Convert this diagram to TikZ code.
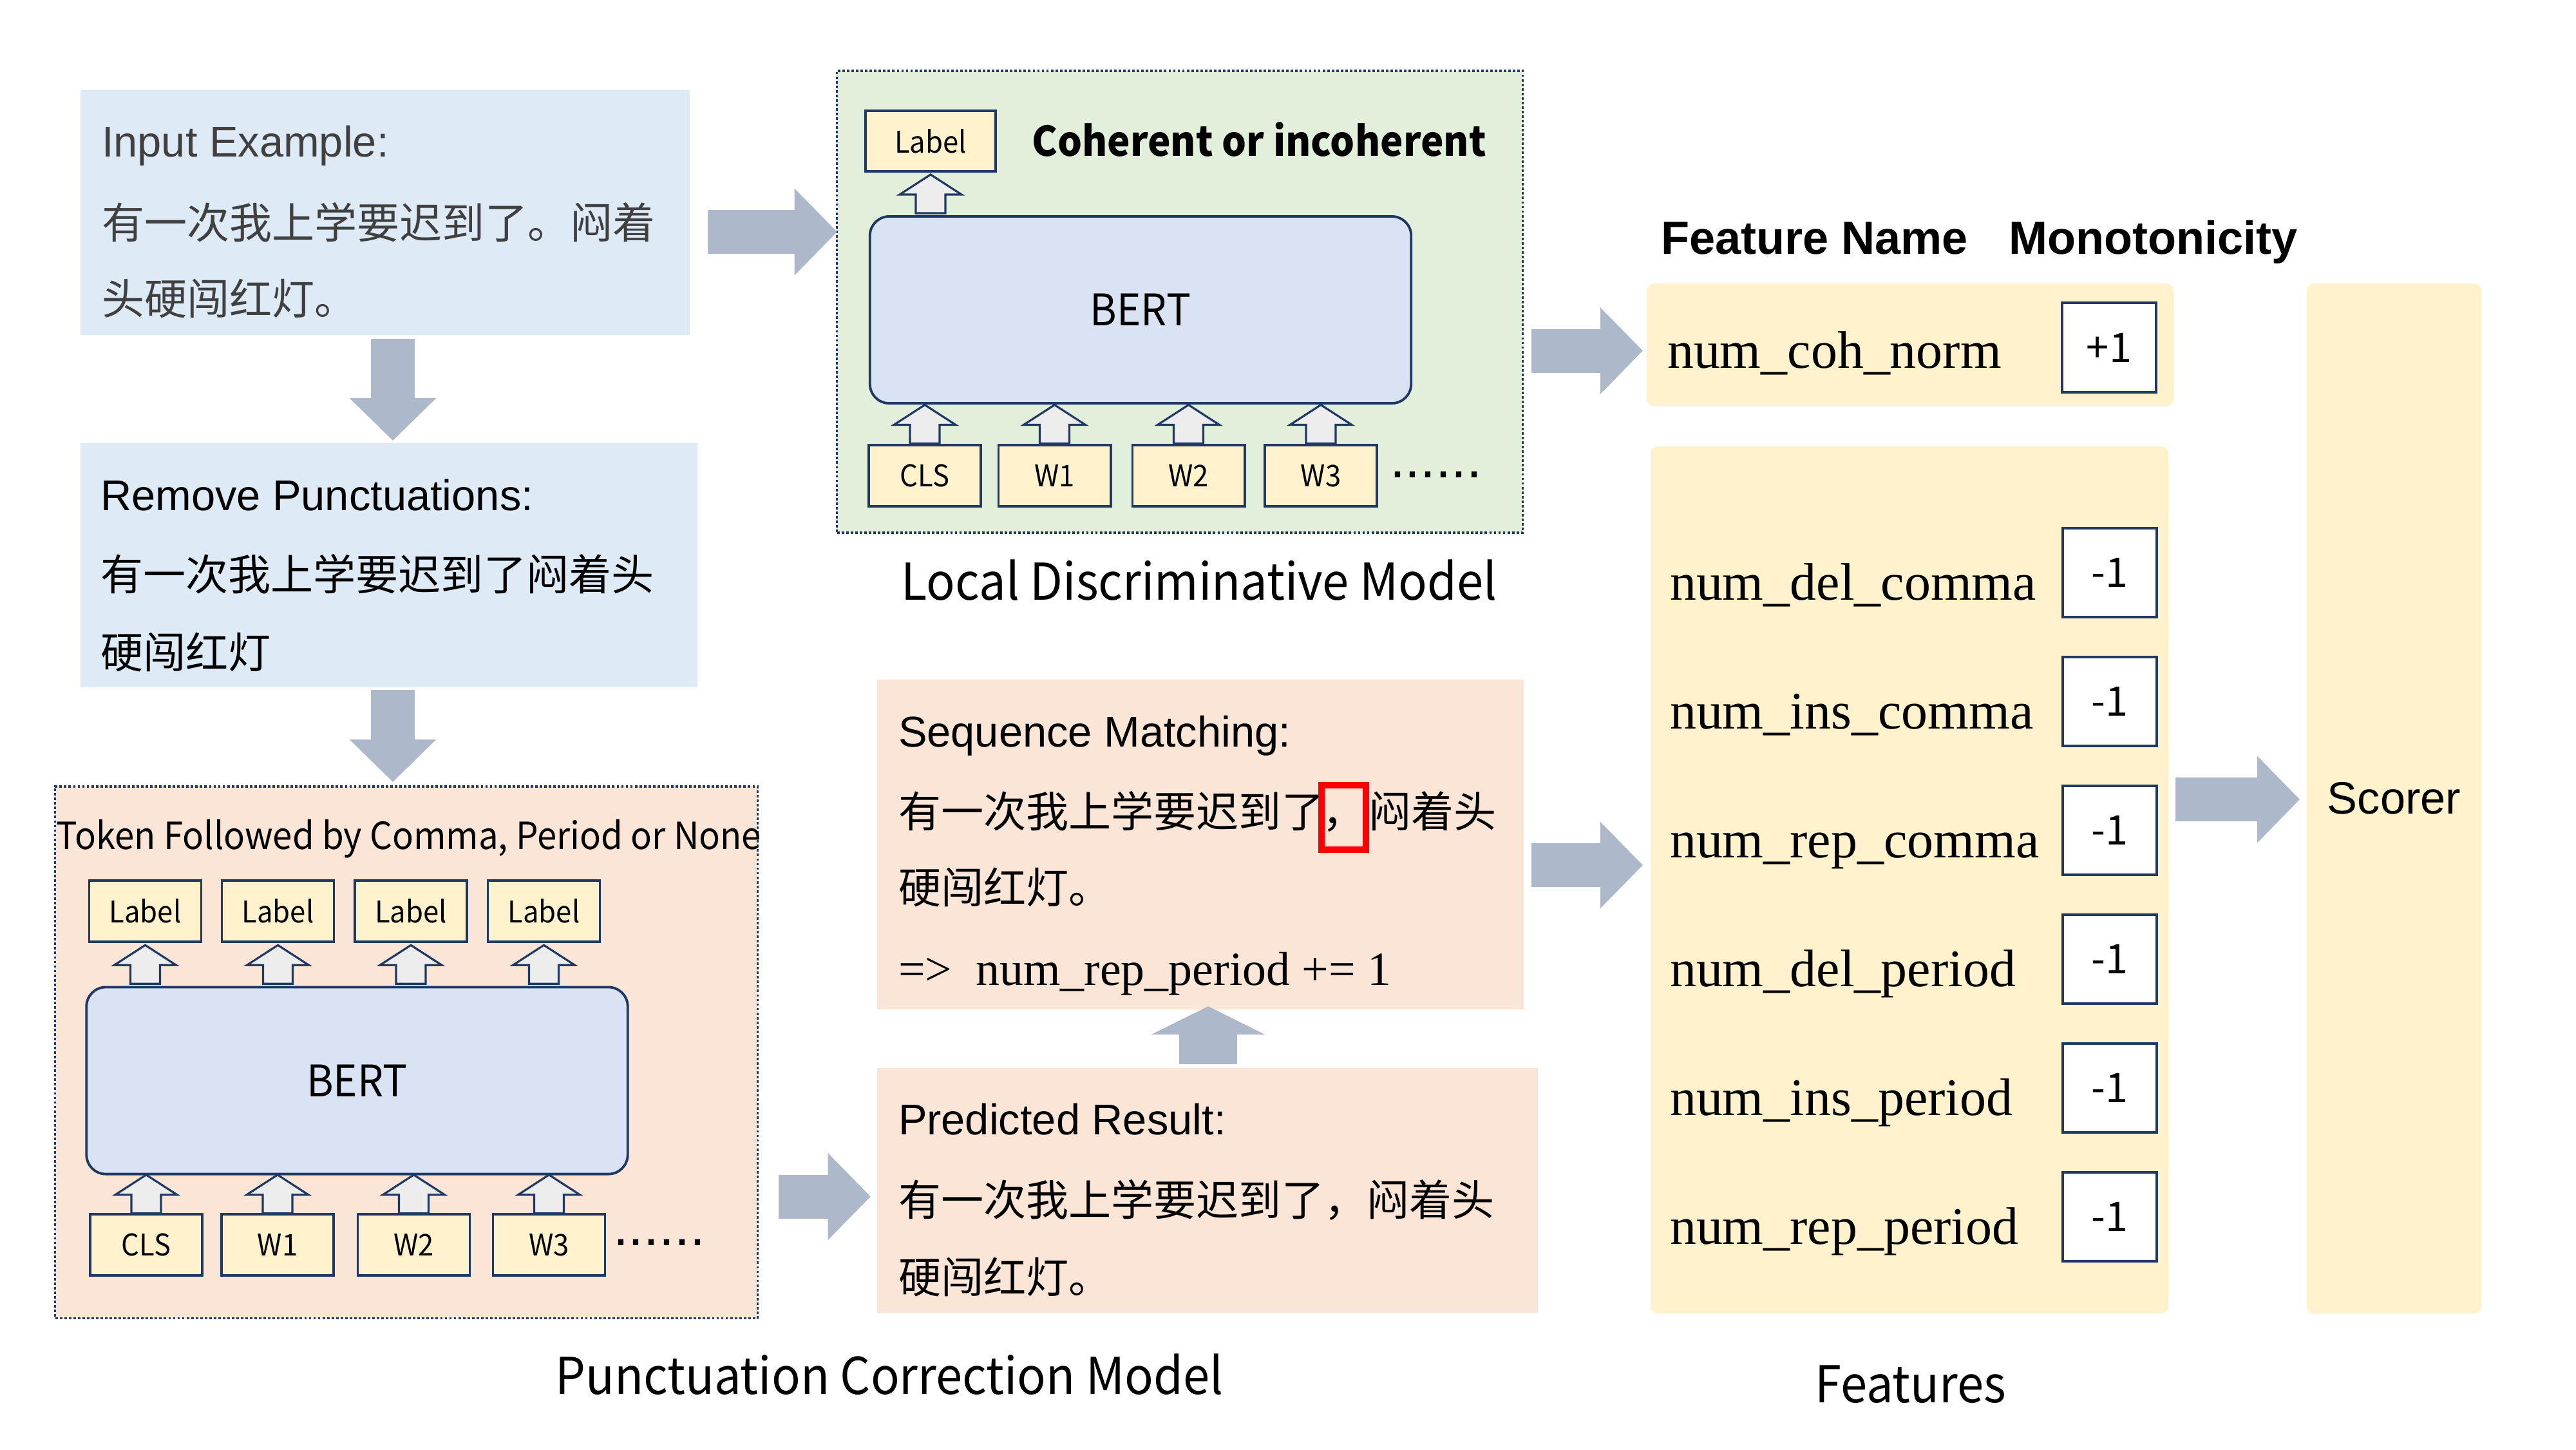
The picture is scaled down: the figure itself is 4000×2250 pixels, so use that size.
\documentclass[tikz,border=0pt]{standalone}
\usepackage{fontspec}
\newfontfamily\zh{Noto Sans CJK SC}
\newfontfamily\zhn[FakeStretch=0.94]{Noto Sans CJK SC}
\newfontfamily\lsans{Liberation Sans}
\newfontfamily\tnr{Liberation Serif}
\usetikzlibrary{arrows.meta,calc,positioning}

\definecolor{navy}{HTML}{1F3864}
\definecolor{paleblue}{HTML}{DEEBF7}
\definecolor{palegreen}{HTML}{E2EFDA}
\definecolor{peach}{HTML}{FBE5D6}
\definecolor{cream}{HTML}{FFF2CC}
\definecolor{bertblue}{HTML}{DAE3F3}
\definecolor{slate}{HTML}{ADB9CA}
\definecolor{ghost}{HTML}{EDEDED}

\tikzset{
  panel/.style={rectangle, inner sep=0pt, outer sep=0pt},
  dotframe/.style={panel, draw=navy, line width=1pt, dash pattern=on 1.1pt off 0.9pt},
  txt/.style={inner sep=0pt, outer sep=0pt, anchor=base west},
  latin/.style={txt, font=\lsans\fontsize{19}{23}\selectfont},
  hanzi/.style={txt, font=\zh\fontsize{18.8}{23}\selectfont},
  caption/.style={inner sep=0pt, anchor=base, font=\zhn\fontsize{22.4}{27}\selectfont},
  tok/.style={panel, draw=navy, line width=1.1pt, fill=cream, minimum width=1.74cm, minimum height=0.95cm, font=\zhn\fontsize{13.2}{16}\selectfont},
  bert/.style={panel, draw=navy, line width=1.1pt, fill=bertblue, rounded corners=0.3cm, minimum width=8.4cm, minimum height=2.9cm, font=\zhn\fontsize{19.2}{23}\selectfont},
  hollowup/.pic={\draw[draw=navy, fill=ghost, line width=0.9pt] (-23,30) -- (-23,1) -- (-48,1) -- (0,-30) -- (48,1) -- (23,1) -- (23,30) -- cycle;},
  fat/.style={draw=slate, line width=0.68cm, -{Triangle[length=0.66cm,width=1.35cm,line width=0pt]}},
  feat/.style={txt, font=\tnr\fontsize{23.3}{28}\selectfont},
  mono/.style={panel, draw=navy, line width=1pt, fill=white, minimum width=1.46cm, minimum height=1.38cm, font=\zh\fontsize{18}{22}\selectfont},
  dots/.style={txt, font=\lsans\fontsize{24.5}{28}\selectfont},
}

\begin{document}
\begin{tikzpicture}[x=0.01cm, y=-0.01cm]
\useasboundingbox (0,0) rectangle (4000,2250);

\node[panel, fill=paleblue, minimum width=9.46cm, minimum height=3.8cm] (input) at (598,330) {};
\node[latin, text=black!75] (inhead) at (158,243) {Input Example:};
\node[hanzi, text=black!75] (inl1) at (158,370) {有一次我上学要迟到了。闷着};
\node[hanzi, text=black!75] (inl2) at (158,488) {头硬闯红灯。};

\node[panel, fill=paleblue, minimum width=9.58cm, minimum height=3.79cm] (remove) at (604,877.5) {};
\node[latin] (rmhead) at (156,792) {Remove Punctuations:};
\node[hanzi] (rml1) at (156,916) {有一次我上学要迟到了闷着头};
\node[hanzi] (rml2) at (156,1037) {硬闯红灯};

\node[dotframe, fill=peach, minimum width=10.9cm, minimum height=8.25cm] (pcm) at (631,1633.5) {};
\node[inner sep=0pt, anchor=base, font=\zhn\fontsize{16.5}{20}\selectfont] (pcmtask) at (635,1318) {Token Followed by Comma, Period or None};
\node[bert] (bertb) at (554.5,1677.5) {BERT};
\foreach \i/\x in {1/225.5, 2/431.5, 3/638, 4/844.5}
  \node[tok] (plab\i) at (\x,1414.5) {Label};
\foreach \nm/\lbl/\x in {pcls/CLS/227, pw1/W1/431, pw2/W2/642.5, pw3/W3/852.5}
  \node[tok] (\nm) at (\x,1932.5) {\lbl};
\node[dots] (pdots) at (952,1933) {......};
\foreach \i in {1,...,4}
  \pic (pup\i) at ($(plab\i.south)!.5!(plab\i.south |- bertb.north)$) {hollowup};
\foreach \nm in {pcls,pw1,pw2,pw3}
  \pic (up\nm) at ($(\nm.north)!.5!(\nm.north |- bertb.south)$) {hollowup};
\node[caption] (pcmname) at (1381,2164) {Punctuation Correction Model};

\node[dotframe, fill=palegreen, minimum width=10.64cm, minimum height=7.17cm] (ldm) at (1832,468.5) {};
\node[tok, minimum width=2.02cm, minimum height=0.94cm] (llab) at (1445,219) {Label};
\node[inner sep=0pt, font=\zhn\bfseries\fontsize{18.1}{22}\selectfont] (cohtext) at (1955,216) {Coherent or incoherent};
\node[bert] (berta) at (1771,481) {BERT};
\foreach \nm/\lbl/\x in {lcls/CLS/1436, lw1/W1/1637.5, lw2/W2/1845.5, lw3/W3/2051}
  \node[tok] (\nm) at (\x,738.5) {\lbl};
\node[dots] (ldots) at (2158,741) {......};
\pic (lup) at ($(llab.south)!.5!(llab.south |- berta.north)$) {hollowup};
\foreach \nm in {lcls,lw1,lw2,lw3}
  \pic (up\nm) at ($(\nm.north)!.5!(\nm.north |- berta.south)$) {hollowup};
\node[caption] (ldmname) at (1862,931) {Local Discriminative Model};

\node[panel, fill=peach, minimum width=10.04cm, minimum height=5.12cm] (seq) at (1864,1311) {};
\node[latin] (seqhead) at (1395,1159) {Sequence Matching:};
\node[hanzi] (seqa) at (1395,1284) {有一次我上学要迟到了};
\node[hanzi, draw=red, line width=2.8pt, minimum width=0.69cm, minimum height=1cm, text height=0.9em, text depth=0.05em] (comma) at ($(seqa.base east)+(-4,0)$) {，};
\node[hanzi] (seqb) at ($(comma.base east)+(4,0)$) {闷着头};
\node[hanzi] (seqc) at (1395,1402) {硬闯红灯。};
\node[txt, font=\tnr\fontsize{21}{25}\selectfont] (rule) at (1395,1529) {=>\ \ num\_rep\_period += 1};

\node[panel, fill=peach, minimum width=10.26cm, minimum height=3.8cm] (pred) at (1875,1848) {};
\node[latin] (predhead) at (1395,1761) {Predicted Result:};
\node[hanzi] (predl1) at (1395,1887) {有一次我上学要迟到了，闷着头};
\node[hanzi] (predl2) at (1395,2007) {硬闯红灯。};

\node[txt, font=\lsans\bfseries\fontsize{20.5}{24}\selectfont] (hname) at (2579,394) {Feature Name};
\node[txt, font=\lsans\bfseries\fontsize{20.5}{24}\selectfont] (hmono) at (3119,394) {Monotonicity};
\node[panel, fill=cream, rounded corners=0.12cm, minimum width=8.18cm, minimum height=1.91cm] (cohbox) at (2966,535.5) {};
\node[feat] (cohname) at (2589,571) {num\_coh\_norm};
\node[mono, minimum height=1.39cm] (cohsign) at (3275,539.5) {+1};
\node[panel, fill=cream, rounded corners=0.12cm, minimum width=8.04cm, minimum height=13.46cm] (feats) at (2965,1366) {};
\foreach \f [count=\k from 0] in {del\_comma, ins\_comma, rep\_comma, del\_period, ins\_period, rep\_period} {
  \node[feat] (fname\k) at (2593,931+200*\k) {num\_\f};
  \node[mono] (fsign\k) at (3276,889+200*\k) {-1};
}
\node[panel, fill=cream, rounded corners=0.12cm, minimum width=2.71cm, minimum height=15.99cm, font=\lsans\fontsize{20}{24}\selectfont] (scorer) at (3717.5,1239.5) {Scorer};
\node[caption] (featname) at (2967,2177) {Features};

\draw[fat] ($(input.east)+(28,30)$) -- ($(input.east -| ldm.west)+(0,30)$);
\draw[fat] ($(input.south)+(12,6)$) -- ($(remove.north)+(6,-4)$);
\draw[fat] ($(remove.south)+(6,4)$) -- ($(pcm.north)+(-21,-7)$);
\draw[fat] ($(pcm.east)+(33,224)$) -- ($(pcm.east -| pred.west)+(-10,224)$);
\draw[draw=slate, line width=0.9cm, -{Triangle[length=0.44cm,width=1.77cm,line width=0pt]}] ($(pred.north)+(1,-6)$) -- ($(pred.north |- seq.south)+(1,-5)$);
\draw[fat] ($(ldm.east)+(14,76)$) -- ($(cohbox.west)+(-6,9)$);
\draw[fat] ($(seq.east)+(12,32)$) -- ($(seq.east -| feats.west)+(-12,32)$);
\draw[fat] ($(feats.east)+(11,-125)$) -- ($(feats.east -| scorer.west)+(-11,-125)$);
\end{tikzpicture}
\end{document}
